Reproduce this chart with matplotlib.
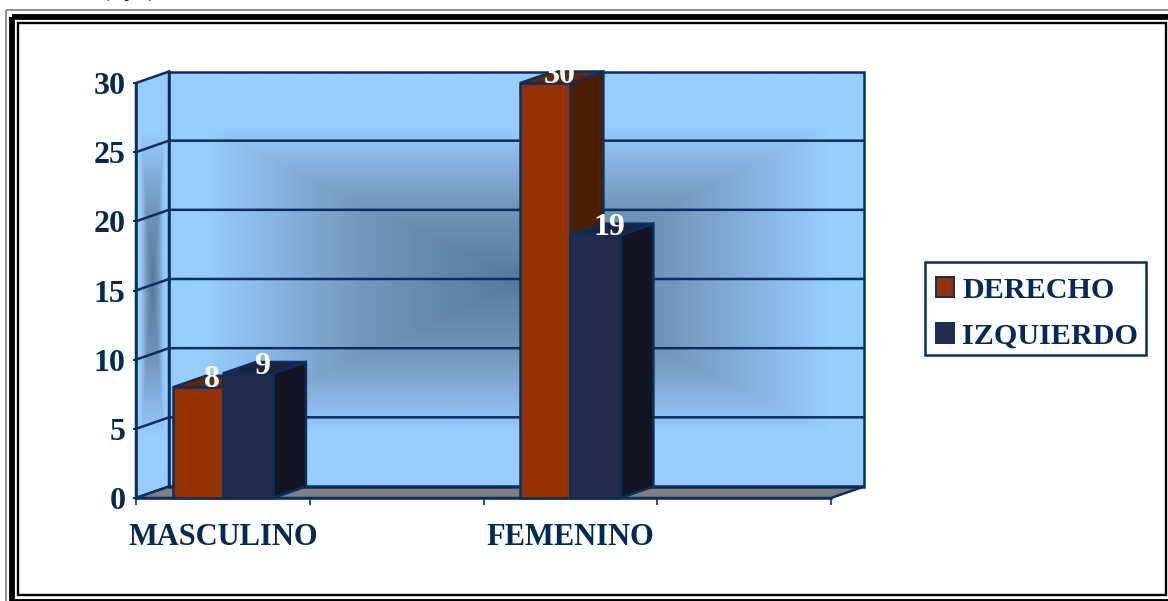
import matplotlib
matplotlib.use('Agg')
import matplotlib.pyplot as plt
import numpy as np
from matplotlib.patches import Polygon, Rectangle, Patch
from matplotlib.colors import LinearSegmentedColormap
from matplotlib.transforms import Bbox

categories = ['MASCULINO', '', 'FEMENINO', '']
derecho = [8, None, 30, None]
izquierdo = [9, None, 19, None]
yticks = [0, 5, 10, 15, 20, 25, 30]

NAVY = '#012a58'
LINE = '#0a2f5e'
FLOOR = '#808080'
WALL_COLS = ['#56789c', '#7398bd', '#99ccff']
COL_D = ('#933100', '#4d1d00', '#6a2600')
COL_I = ('#25294b', '#131522', '#1f2140')
LW = 1.8

plt.rcParams['font.family'] = ['Liberation Serif', 'DejaVu Serif']
plt.rcParams['font.weight'] = 'bold'

W, H = 1168, 601
fig = plt.figure(figsize=(W / 100, H / 100), dpi=100)

# frame and legend box, in pixels of the picture
bg = fig.add_axes([0, 0, 1, 1], zorder=-1)
bg.set_xlim(0, W)
bg.set_ylim(H, 0)
bg.axis('off')
bg.add_patch(Rectangle((5.5, 10), 1300, 700, fill=False, ec='#707070', lw=1.1))
bg.add_patch(Rectangle((12, 16.5), 1300, 585.5, fill=False, ec='black', lw=4.2))
bg.add_patch(Rectangle((18, 23), 1148, 572, fill=False, ec='black', lw=1.7))
bg.add_patch(Rectangle((925, 262), 221, 93, fill=False, ec=LINE, lw=LW))
bg.text(129, -3.5, '(   p   )', fontsize=14, color='black', ha='center', va='baseline',
        fontweight='normal')

ax = fig.add_axes([136 / W, 1 - 498 / H, 695 / W, 415 / H])
ax.set_xlim(0, 4)
ax.set_ylim(0, 30)

# depth of the fake 3d box, in data units
dx = 33 / (695 / 4)
dy = 11.5 / (415 / 30)
ytop = yticks[-1]
xend = len(categories)


def wall_gradient(sx, sy):
    u = np.linspace(-1, 1, 500)
    v = np.linspace(-1, 1, 500)
    uu, vv = np.meshgrid(u, v)
    return np.clip(np.maximum(np.abs(uu) / sx, np.abs(vv) / sy), 0, 1)


cmap = LinearSegmentedColormap.from_list('wall', WALL_COLS)

# back wall
ax.imshow(wall_gradient(0.9, 0.74), cmap=cmap, vmin=0, vmax=1, aspect='auto', zorder=1,
          extent=(dx, xend + dx, dy, ytop + dy), clip_on=False, interpolation='bilinear')

# side wall
side_xy = [(0, 0), (dx, dy), (dx, ytop + dy), (0, ytop)]
side_img = ax.imshow(wall_gradient(0.72, 0.72), cmap=cmap, vmin=0, vmax=1, aspect='auto', zorder=1,
                     extent=(0, dx, 0, ytop + dy), interpolation='bilinear')
side_clip = Polygon(side_xy, closed=True, transform=ax.transData)
side_img.set_clip_path(side_clip)
side_img.set_clip_box(fig.bbox)
ax.set_xlim(0, 4)
ax.set_ylim(0, 30)

ax.add_patch(Polygon(side_xy, closed=True, fill=False, ec=LINE, lw=LW, zorder=2, clip_on=False))
ax.add_patch(Polygon([(0, 0), (dx, dy), (xend + dx, dy), (xend, 0)], closed=True, fc=FLOOR,
                     ec=LINE, lw=LW, zorder=2, clip_on=False))
ax.add_patch(Rectangle((dx, dy), xend, ytop, fill=False, ec=LINE, lw=LW, zorder=2, clip_on=False))

for y in yticks[1:-1]:
    ax.plot([0, dx, xend + dx], [y, y + dy, y + dy], color=LINE, lw=LW, zorder=2, clip_on=False)


def bar3d(x, w, val, cols, z):
    front, side, top = cols
    ax.add_patch(Polygon([(x + w, 0), (x + w + dx, dy), (x + w + dx, val + dy), (x + w, val)],
                         closed=True, fc=side, ec=LINE, lw=LW, zorder=z, clip_on=False))
    ax.add_patch(Polygon([(x, val), (x + dx, val + dy), (x + w + dx, val + dy), (x + w, val)],
                         closed=True, fc=top, ec=LINE, lw=LW, zorder=z, clip_on=False))
    ax.add_patch(Rectangle((x, 0), w, val, fc=front, ec=LINE, lw=LW, zorder=z, clip_on=False))


bar_w = 0.288
for i, cat in enumerate(categories):
    if derecho[i] is None:
        continue
    x0 = i + 0.5 - bar_w
    bar3d(x0, bar_w, derecho[i], COL_D, 3)
    bar3d(x0 + bar_w, bar_w, izquierdo[i], COL_I, 4)
    for xp, val in ((x0, derecho[i]), (x0 + bar_w, izquierdo[i])):
        t = ax.text(xp + bar_w / 2 + 0.08, val, str(val), color='white', fontsize=23, ha='center',
                    va='baseline', zorder=6)
        # the top of the tallest label is cut off in the reference too
        t.set_clip_box(Bbox([[0, 0], [W, H - 65]]))
        t.set_clip_on(True)

for s in ('top', 'right'):
    ax.spines[s].set_visible(False)
for s in ('left', 'bottom'):
    ax.spines[s].set_color(LINE)
    ax.spines[s].set_linewidth(LW)
    ax.spines[s].set_zorder(5)
ax.patch.set_visible(False)

ax.set_yticks(yticks)
ax.set_xticks(range(len(categories) + 1))
ax.set_xticklabels([])
ax.set_xticks(np.arange(len(categories)) + 0.5, minor=True)
ax.set_xticklabels(categories, minor=True)
ax.tick_params(axis='y', which='major', length=2.5, width=1.4, color=LINE, pad=5, labelsize=23,
               labelcolor=NAVY)
ax.tick_params(axis='x', which='major', length=5, width=1.2, color=LINE)
ax.tick_params(axis='x', which='minor', length=0, pad=18, labelsize=22, labelcolor=NAVY)

handles = [Patch(fc=COL_D[0], ec=LINE, lw=1.4, label='DERECHO'),
           Patch(fc=COL_I[0], ec=LINE, lw=1.4, label='IZQUIERDO')]
leg = fig.legend(handles=handles, loc='upper left', bbox_to_anchor=(925 / W, 1 - 266 / H),
                 bbox_transform=fig.transFigure, fontsize=21.7, handlelength=0.62, handleheight=0.62,
                 handletextpad=0.27, labelspacing=0.64, borderpad=0.35, borderaxespad=0,
                 frameon=False, labelcolor=NAVY)

plt.savefig('out.png', dpi=100)
